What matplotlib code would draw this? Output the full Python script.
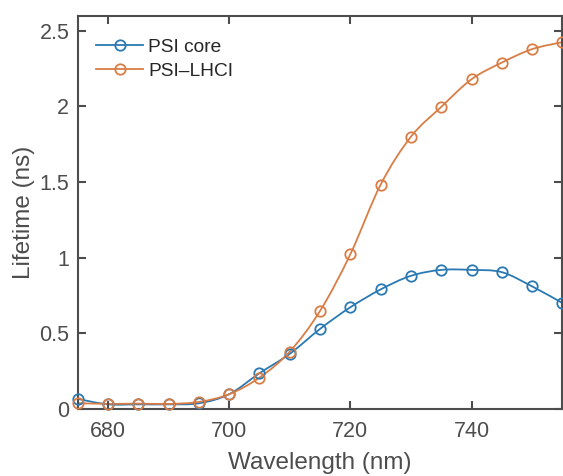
import matplotlib
matplotlib.use("Agg")
import matplotlib.pyplot as plt
from matplotlib.path import Path
from matplotlib.patches import PathPatch
from matplotlib.lines import Line2D
import numpy as np

wavelength = [675, 680, 685, 690, 695, 700, 705, 710, 715, 720, 725, 730, 735, 740, 745, 750, 755]
psi_core = [0.066, 0.030, 0.030, 0.030, 0.037, 0.097, 0.236, 0.364, 0.529, 0.672, 0.790,
            0.880, 0.919, 0.919, 0.904, 0.810, 0.700]
psi_lhci = [0.038, 0.033, 0.035, 0.033, 0.046, 0.097, 0.207, 0.379, 0.648, 1.023, 1.483,
            1.800, 1.997, 2.180, 2.290, 2.379, 2.425]

BLUE = "#2a79b3"
ORANGE = "#d97d45"
GRAY = "#4d4d4d"

plt.rcParams["font.family"] = ["Liberation Sans", "DejaVu Sans"]


def smooth_path(x, y):
    # Catmull-Rom segments drawn as cubic Bezier curves
    x = np.asarray(x, float)
    y = np.asarray(y, float)
    px = np.concatenate([[x[0]], x, [x[-1]]])
    py = np.concatenate([[y[0]], y, [y[-1]]])
    verts = [(x[0], y[0])]
    codes = [Path.MOVETO]
    for i in range(1, len(px) - 2):
        c1 = (px[i] + (px[i + 1] - px[i - 1]) / 6, py[i] + (py[i + 1] - py[i - 1]) / 6)
        c2 = (px[i + 1] - (px[i + 2] - px[i]) / 6, py[i + 1] - (py[i + 2] - py[i]) / 6)
        verts += [c1, c2, (px[i + 1], py[i + 1])]
        codes += [Path.CURVE4] * 3
    return Path(verts, codes)


fig = plt.figure(figsize=(5.63, 4.76), dpi=100)
ax = fig.add_axes([0.138, 0.141, 0.861, 0.826])

for vals, color in [(psi_core, BLUE), (psi_lhci, ORANGE)]:
    ax.add_patch(PathPatch(smooth_path(wavelength, vals), facecolor="none",
                           edgecolor=color, lw=1.3, clip_on=True))
    ax.plot(wavelength, vals, ls="none", marker="o", ms=7.5, mfc="none",
            mec=color, mew=1.3, clip_on=False, zorder=3)

ax.set_xlim(675, 755)
ax.set_ylim(0, 2.6)
ax.set_xticks([680, 700, 720, 740])
ax.set_yticks([0, 0.5, 1, 1.5, 2, 2.5])
ax.set_yticklabels(["0", "0.5", "1", "1.5", "2", "2.5"])
ax.tick_params(direction="in", top=True, right=True, length=6, width=1.5,
               colors=GRAY, labelsize=15.5)
ax.tick_params(axis="x", pad=9)
ax.tick_params(axis="y", pad=6)
for sp in ax.spines.values():
    sp.set_color(GRAY)
    sp.set_linewidth(1.5)

ax.set_xlabel("Wavelength (nm)", fontsize=17.5, color=GRAY, labelpad=7)
ax.set_ylabel("Lifetime (ns)", fontsize=17.5, color=GRAY, labelpad=3)

handles = [Line2D([], [], color=BLUE, marker="o", mfc="none", mew=1.3, ms=7.5, lw=1.3),
           Line2D([], [], color=ORANGE, marker="o", mfc="none", mew=1.3, ms=7.5, lw=1.3)]
leg = ax.legend(handles, ["PSI core", "PSI\u2013LHCI"], loc="upper left", frameon=False,
                fontsize=13.8, handlelength=2.45, handletextpad=0.25, labelspacing=0.35,
                borderaxespad=0.3, bbox_to_anchor=(0.011, 0.977))
for t in leg.get_texts():
    t.set_color("#262626")

fig.savefig("out.png", dpi=100)
